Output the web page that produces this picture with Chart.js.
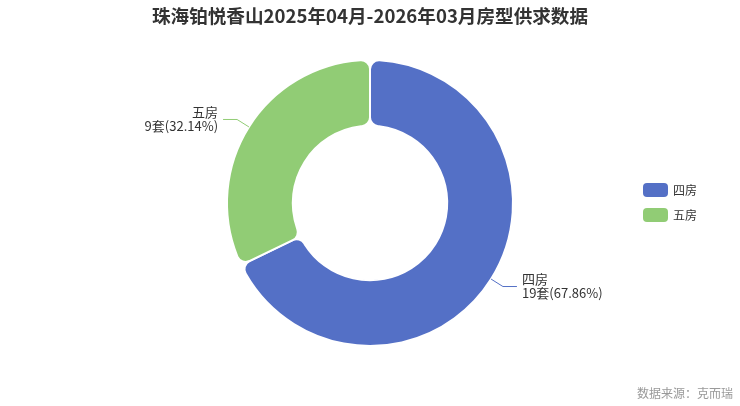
<!DOCTYPE html>
<html>
<head>
<meta charset="utf-8">
<script src="https://cdn.jsdelivr.net/npm/chart.js@4"></script>
<style>
  html, body { margin: 0; padding: 0; background: #fff; }
  #wrap { width: 740px; height: 406px; position: relative; }
</style>
</head>
<body>
<div id="wrap"><canvas id="myChart" width="740" height="406"></canvas></div>
<script>
// data
const categories = ["四房", "五房"];
const counts = [19, 9];
const colors = ["#5470c6", "#91cc75"];
const titleText = "珠海铂悦香山2025年04月-2026年03月房型供求数据";
const sourceText = "数据来源：克而瑞";

const FONT = '"Noto Sans CJK SC", "Noto Sans", sans-serif';
const total = counts.reduce((a, b) => a + b, 0);

// title, labels with leader lines, legend, source
const decor = {
  id: "decor",
  afterDraw(chart) {
    const ctx = chart.ctx;
    ctx.save();

    // title
    ctx.fillStyle = "#333";
    ctx.font = "bold 18.6px " + FONT;
    ctx.textAlign = "center";
    ctx.textBaseline = "middle";
    ctx.fillText(titleText, 370, 16);

    // slice labels
    const meta = chart.getDatasetMeta(0);
    meta.data.forEach((arc, i) => {
      const p = arc.getProps(["x", "y", "startAngle", "endAngle", "outerRadius"], true);
      const mid = (p.startAngle + p.endAngle) / 2;
      const cx = Math.cos(mid), sy = Math.sin(mid);
      const x0 = p.x + cx * p.outerRadius, y0 = p.y + sy * p.outerRadius;
      const x1 = x0 + cx * 14, y1 = y0 + sy * 14;
      const dir = cx >= 0 ? 1 : -1;
      const x2 = x1 + dir * 14;
      ctx.strokeStyle = colors[i];
      ctx.lineWidth = 1;
      ctx.beginPath();
      ctx.moveTo(x0, y0);
      ctx.lineTo(x1, y1);
      ctx.lineTo(x2, y1);
      ctx.stroke();

      const pct = (counts[i] / total * 100).toFixed(2);
      ctx.fillStyle = "#333";
      ctx.font = "13px " + FONT;
      ctx.textAlign = dir > 0 ? "left" : "right";
      ctx.textBaseline = "middle";
      const tx = x2 + dir * 5;
      ctx.fillText(categories[i], tx, y1 - 7);
      ctx.fillText(counts[i] + "套(" + pct + "%)", tx, y1 + 7);
    });

    // legend
    categories.forEach((c, i) => {
      const y = 190 + i * 25;
      ctx.fillStyle = colors[i];
      ctx.beginPath();
      ctx.roundRect(643, y - 7, 25, 14, 4);
      ctx.fill();
      ctx.fillStyle = "#333";
      ctx.font = "12px " + FONT;
      ctx.textAlign = "left";
      ctx.textBaseline = "middle";
      ctx.fillText(c, 673, y);
    });

    // source
    ctx.fillStyle = "#999";
    ctx.font = "12px " + FONT;
    ctx.textAlign = "right";
    ctx.fillText(sourceText, 733, 393);

    ctx.restore();
  }
};

new Chart(document.getElementById("myChart"), {
  type: "doughnut",
  data: {
    labels: categories,
    datasets: [{
      data: counts,
      backgroundColor: colors,
      borderColor: "#fff",
      borderWidth: 2,
      borderRadius: 9,
      hoverOffset: 0
    }]
  },
  options: {
    responsive: false,
    animation: false,
    cutout: "54%",
    layout: { padding: { top: 59, bottom: 59, left: 0, right: 0 } },
    plugins: {
      legend: { display: false },
      title: { display: false },
      tooltip: { enabled: false }
    }
  },
  plugins: [decor]
});
</script>
</body>
</html>
